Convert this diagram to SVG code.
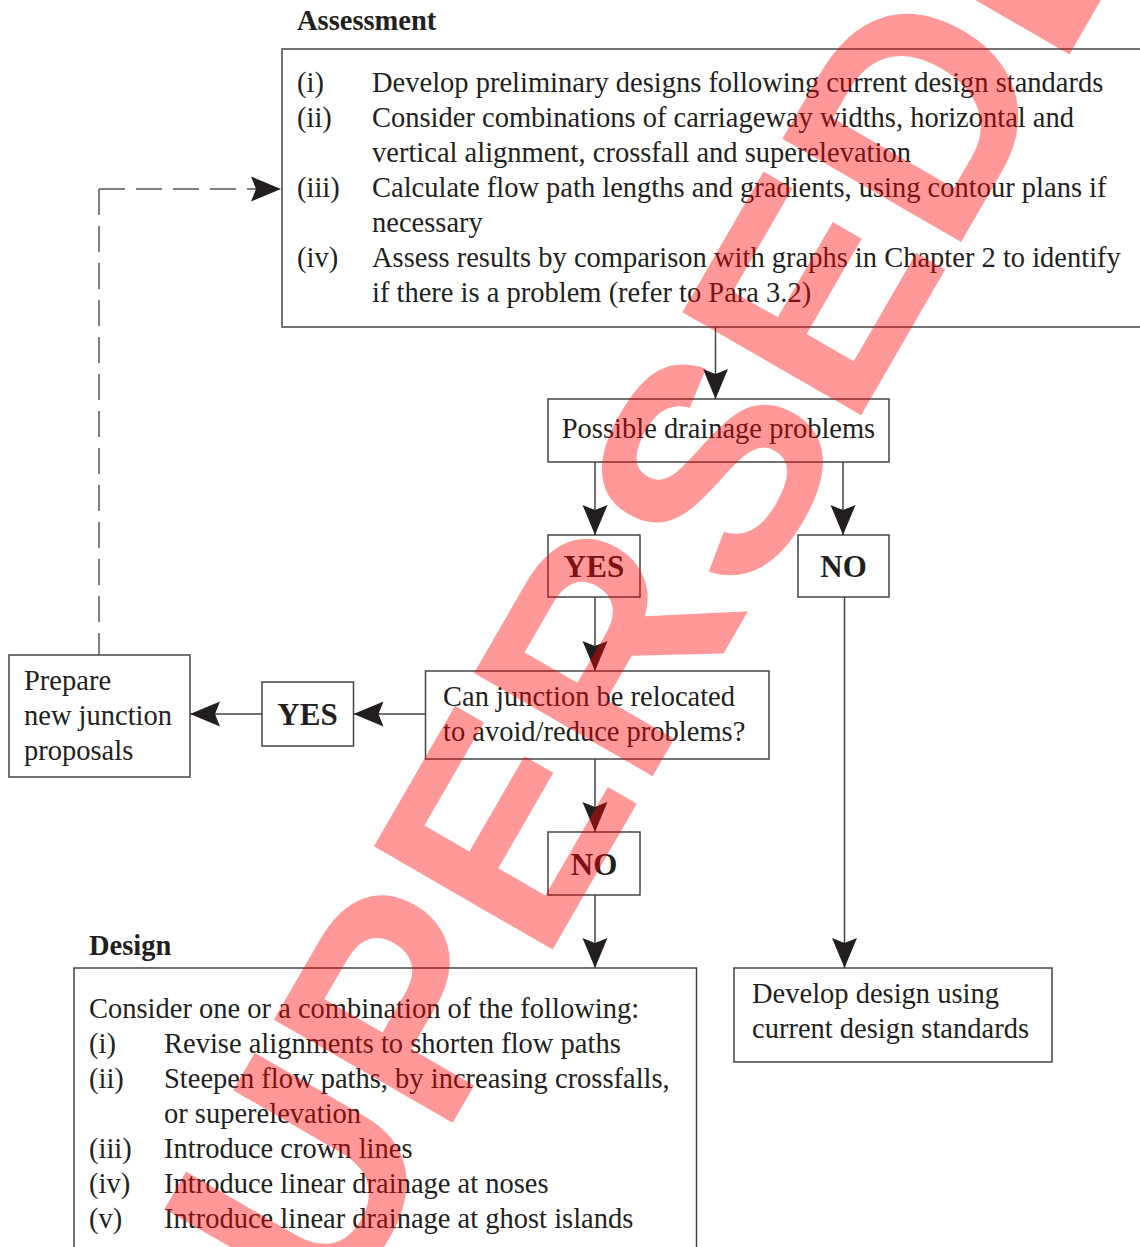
<svg xmlns="http://www.w3.org/2000/svg" width="1140" height="1247" viewBox="0 0 1140 1247">
<style>
  .box { fill: #ffffff; stroke: #444444; stroke-width: 1.5; }
  .t { font-family: "Liberation Serif", "Times New Roman", serif; font-size: 28.5px; fill: #231f20; }
  .h { font-family: "Liberation Serif", "Times New Roman", serif; font-size: 28.5px; font-weight: bold; fill: #231f20; }
  .yn { font-family: "Liberation Serif", "Times New Roman", serif; font-size: 31px; font-weight: bold; fill: #231f20; text-anchor: middle; }
  .c { fill: none; stroke: #444444; stroke-width: 1.5; }
  .d { fill: none; stroke: #555555; stroke-width: 1.5; stroke-dasharray: 26 11; }
  .wm { font-family: "Liberation Sans", Arial, sans-serif; font-size: 300px; font-weight: bold; fill: #ff0000; fill-opacity: 0.4; text-anchor: middle; }
</style>
<defs>
  <marker id="ah" viewBox="-31 -13 32 26" markerWidth="32" markerHeight="26" refX="0" refY="0" markerUnits="userSpaceOnUse" orient="auto">
    <path d="M0,0 L-30,-12.5 L-25,0 L-30,12.5 Z" fill="#231f20"/>
  </marker>
</defs>
<rect width="1140" height="1247" fill="#ffffff"/>

<g id="assessment">
  <text class="h" x="297" y="30">Assessment</text>
  <rect class="box" x="282" y="49" width="880" height="278"/>
  <text class="t" x="297" y="92">(i)</text>
  <text class="t" x="372" y="92">Develop preliminary designs following current design standards</text>
  <text class="t" x="297" y="127">(ii)</text>
  <text class="t" x="372" y="127">Consider combinations of carriageway widths, horizontal and</text>
  <text class="t" x="372" y="162">vertical alignment, crossfall and superelevation</text>
  <text class="t" x="297" y="197">(iii)</text>
  <text class="t" x="372" y="197">Calculate flow path lengths and gradients, using contour plans if</text>
  <text class="t" x="372" y="232">necessary</text>
  <text class="t" x="297" y="267">(iv)</text>
  <text class="t" x="372" y="267">Assess results by comparison with graphs in Chapter 2 to identify</text>
  <text class="t" x="372" y="302">if there is a problem (refer to Para 3.2)</text>
</g>

<g id="possible">
  <rect class="box" x="548" y="399" width="341" height="63"/>
  <text class="t" x="718.5" y="438" text-anchor="middle">Possible drainage problems</text>
</g>

<g id="yes1">
  <rect class="box" x="548" y="535" width="92" height="62"/>
  <text class="yn" x="594" y="577">YES</text>
</g>

<g id="no1">
  <rect class="box" x="798" y="535" width="91" height="62"/>
  <text class="yn" x="843.5" y="577">NO</text>
</g>

<g id="relocate">
  <rect class="box" x="425.5" y="671" width="343.5" height="88"/>
  <text class="t" x="443" y="706">Can junction be relocated</text>
  <text class="t" x="443" y="741">to avoid/reduce problems?</text>
</g>

<g id="yes2">
  <rect class="box" x="262" y="682" width="91.5" height="64"/>
  <text class="yn" x="307.5" y="725">YES</text>
</g>

<g id="prepare">
  <rect class="box" x="9" y="655" width="181" height="122"/>
  <text class="t" x="24" y="690">Prepare</text>
  <text class="t" x="24" y="725">new junction</text>
  <text class="t" x="24" y="760">proposals</text>
</g>

<g id="no2">
  <rect class="box" x="548" y="832" width="92" height="63"/>
  <text class="yn" x="594" y="875">NO</text>
</g>

<g id="design">
  <text class="h" x="89" y="955">Design</text>
  <rect class="box" x="74" y="968" width="622.5" height="300"/>
  <text class="t" x="89" y="1018">Consider one or a combination of the following:</text>
  <text class="t" x="89" y="1053">(i)</text>
  <text class="t" x="164" y="1053">Revise alignments to shorten flow paths</text>
  <text class="t" x="89" y="1088">(ii)</text>
  <text class="t" x="164" y="1088">Steepen flow paths, by increasing crossfalls,</text>
  <text class="t" x="164" y="1123">or superelevation</text>
  <text class="t" x="89" y="1158">(iii)</text>
  <text class="t" x="164" y="1158">Introduce crown lines</text>
  <text class="t" x="89" y="1193">(iv)</text>
  <text class="t" x="164" y="1193">Introduce linear drainage at noses</text>
  <text class="t" x="89" y="1228">(v)</text>
  <text class="t" x="164" y="1228">Introduce linear drainage at ghost islands</text>
</g>

<g id="develop">
  <rect class="box" x="734" y="968" width="318" height="94"/>
  <text class="t" x="752" y="1003">Develop design using</text>
  <text class="t" x="752" y="1038">current design standards</text>
</g>

<g id="connectors">
  <path class="d" d="M99,189 V655"/>
  <path class="d" d="M99,189 H281" marker-end="url(#ah)"/>
  <path class="c" d="M715.5,327 V399" marker-end="url(#ah)"/>
  <path class="c" d="M595,462 V535" marker-end="url(#ah)"/>
  <path class="c" d="M843,462 V535" marker-end="url(#ah)"/>
  <path class="c" d="M595,597 V671" marker-end="url(#ah)"/>
  <path class="c" d="M425.5,714 H353.5" marker-end="url(#ah)"/>
  <path class="c" d="M262,714 H190" marker-end="url(#ah)"/>
  <path class="c" d="M595,759 V832" marker-end="url(#ah)"/>
  <path class="c" d="M595,895 V968" marker-end="url(#ah)"/>
  <path class="c" d="M844.5,597 V968" marker-end="url(#ah)"/>
</g>

<g id="watermark">
  <text class="wm" x="751" y="606" transform="rotate(-60 751 606)">SUPERSEDED</text>
</g>
</svg>
